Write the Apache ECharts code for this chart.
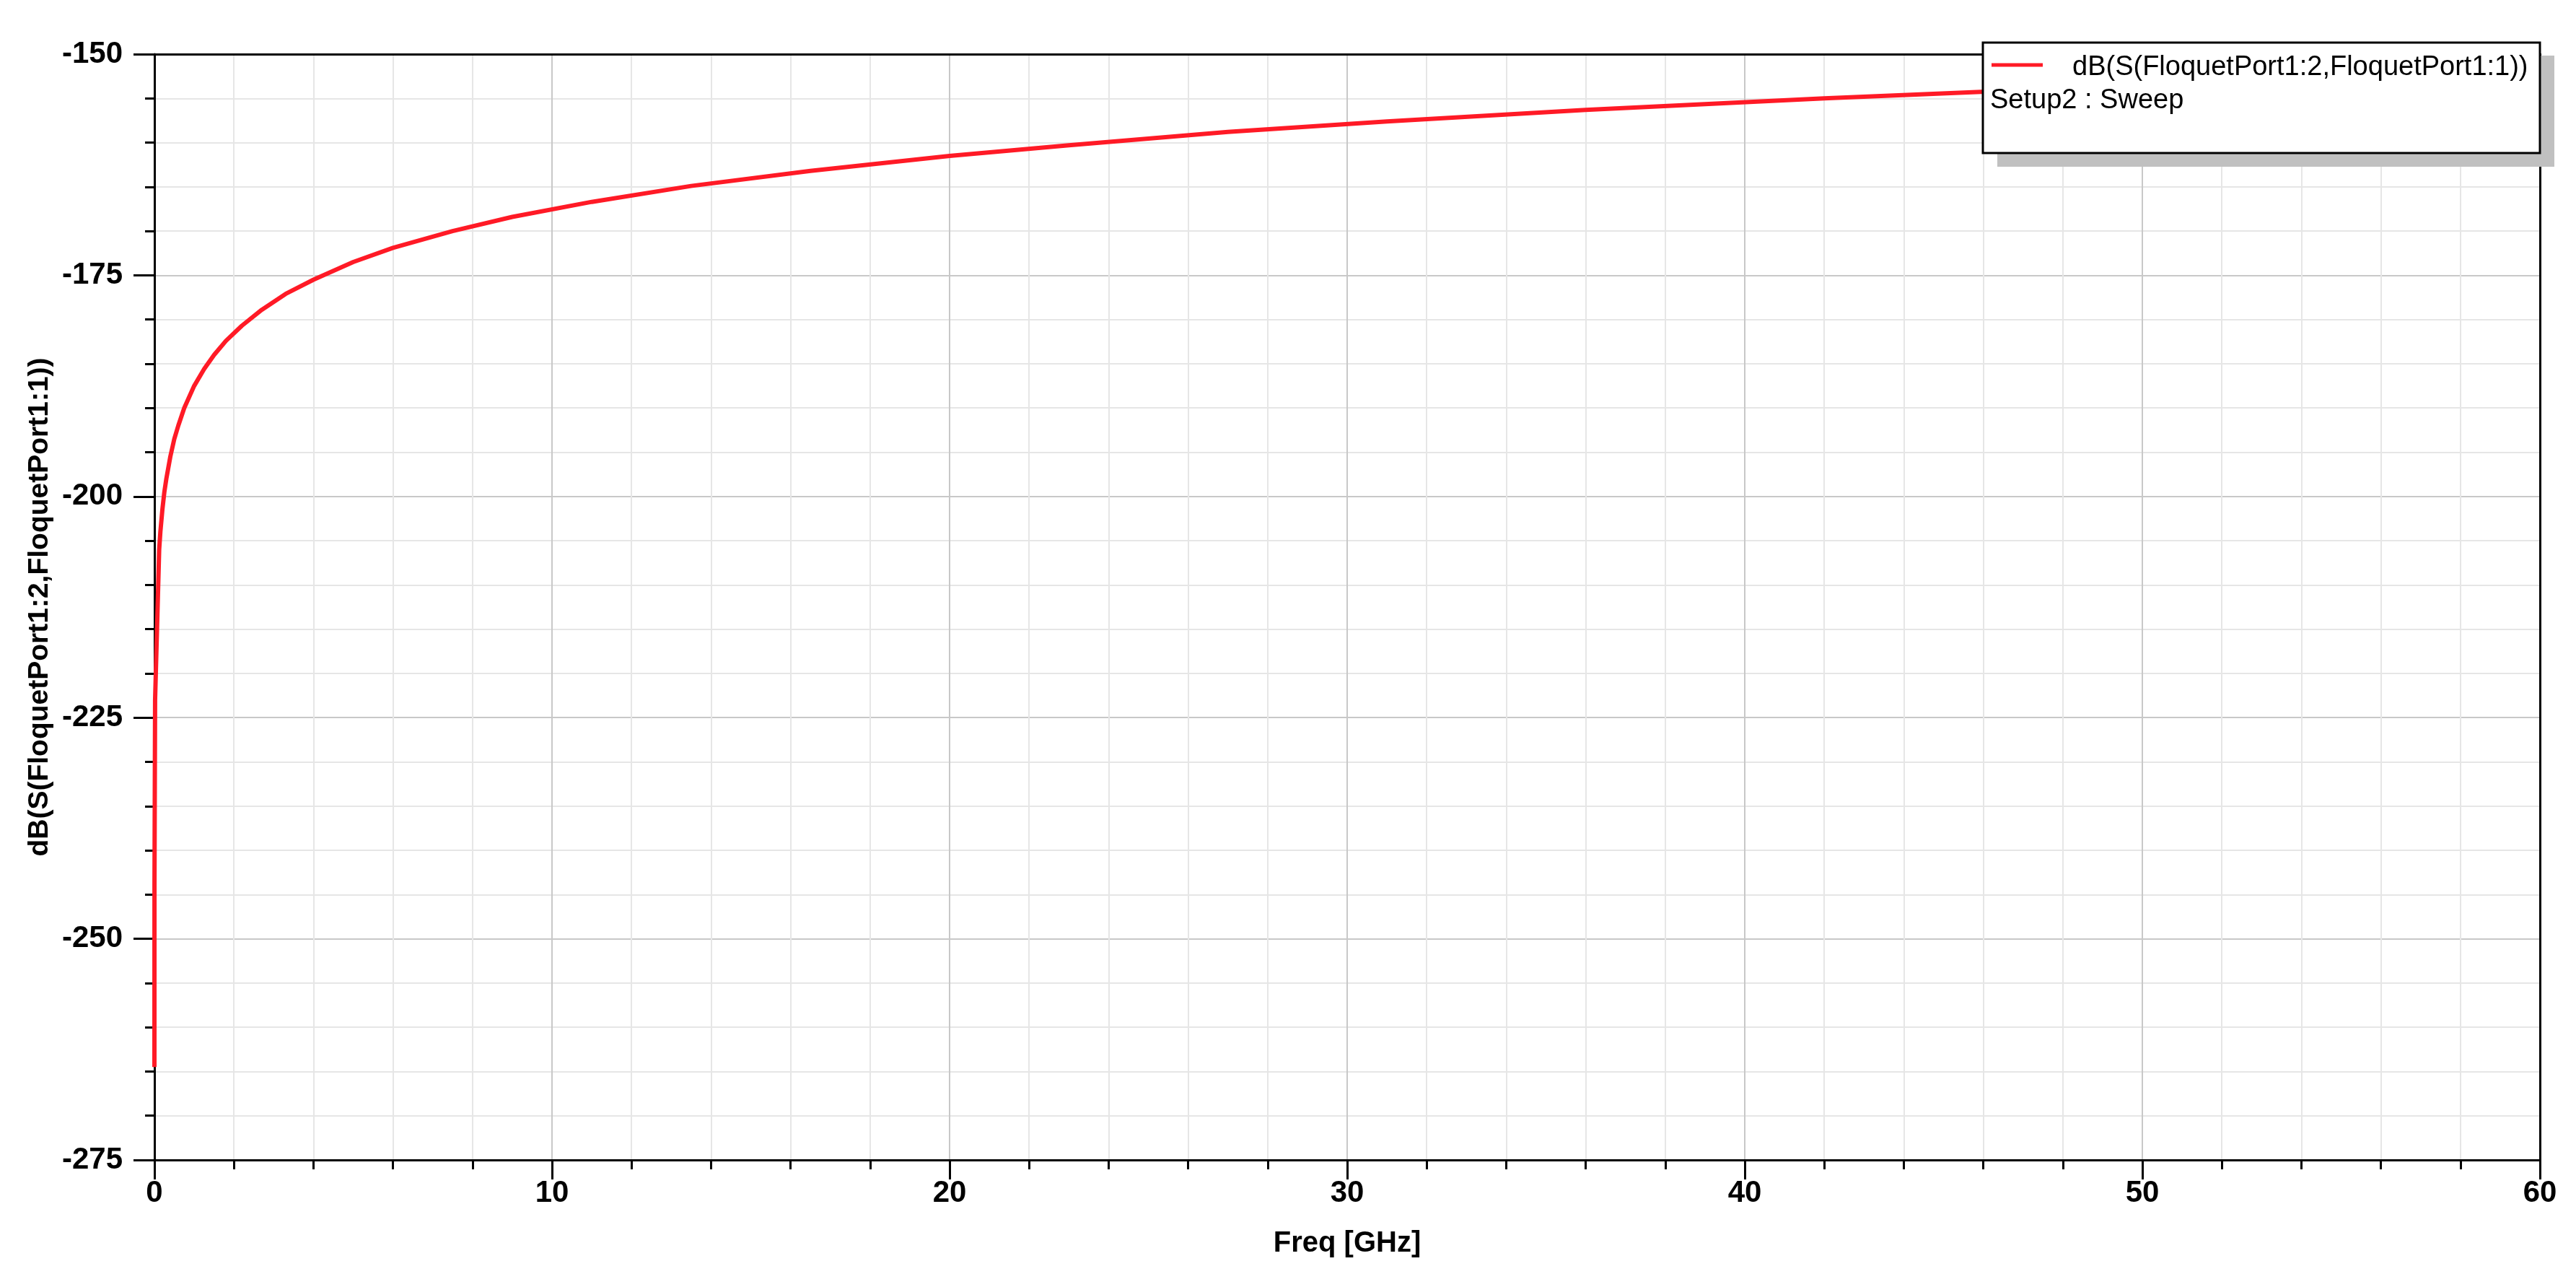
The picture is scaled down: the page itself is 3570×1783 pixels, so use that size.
<!DOCTYPE html>
<html>
<head>
<meta charset="utf-8">
<title>dB(S(FloquetPort1:2,FloquetPort1:1))</title>
<script src="https://cdn.jsdelivr.net/npm/echarts/dist/echarts.min.js"></script>
<style>
  html, body { margin: 0; padding: 0; background: #fff; }
  #chart { width: 3570px; height: 1783px; }
</style>
</head>
<body>
<div id="chart"></div>
<script>
// sweep (Setup2 : Sweep)
var freqGHz = [0.0001, 0.0015, 0.017, 0.12, 0.15, 0.2, 0.25, 0.3, 0.4, 0.5, 0.6, 0.75,
  1.0, 1.25, 1.5, 1.8, 2.2, 2.7, 3.3, 4.0, 5.0, 6.0, 7.5, 9.0, 11, 13.5, 16.5,
  20, 23, 27, 31, 36, 42, 50, 60];
var s21dB = [-264.5, -244, -223, -206, -204, -201.5, -199.5, -198, -195.5, -193.5, -192, -190,
  -187.5, -185.6, -184, -182.4, -180.7, -178.9, -177.1, -175.5, -173.5, -171.9, -170, -168.4, -166.7, -164.9, -163.2,
  -161.5, -160.3, -158.8, -157.6, -156.3, -155.0, -153.5, -151.9];

var traceName = 'dB(S(FloquetPort1:2,FloquetPort1:1))';
var sweepName = 'Setup2 : Sweep';
var xName = 'Freq [GHz]';

var font = '"Liberation Sans", Arial, Helvetica, sans-serif';
var red = '#ff1a26';

var points = freqGHz.map(function (f, i) { return [f, s21dB[i]]; });

var tickStyle = { color: '#000', width: 3 };
var labelStyle = { fontFamily: font, fontWeight: 'bold', fontSize: 42, color: '#000' };

var chart = echarts.init(document.getElementById('chart'));
chart.setOption({
    animation: false,
    backgroundColor: '#fff',
    grid: { left: 214, right: 50, top: 75, bottom: 176 },
    xAxis: [{
        type: 'value',
        position: 'bottom',
        min: 0, max: 60, interval: 10,
        name: xName,
        nameLocation: 'middle',
        nameGap: 96,
        nameTextStyle: { fontFamily: font, fontWeight: 'bold', fontSize: 40, color: '#000' },
        axisLine: { show: true, onZero: false, lineStyle: tickStyle },
        axisTick: { show: true, length: 27, lineStyle: tickStyle },
        minorTick: { show: true, splitNumber: 5, length: 13, lineStyle: tickStyle },
        axisLabel: Object.assign({ margin: 25 }, labelStyle),
        splitLine: { show: true, lineStyle: { color: '#c8c8c8', width: 2 } },
        minorSplitLine: { show: true, lineStyle: { color: '#e6e6e6', width: 2 } },
        z: 3
    }, {
        // top frame line
        type: 'value',
        position: 'top',
        min: 0, max: 60, interval: 10,
        axisLine: { show: true, onZero: false, lineStyle: tickStyle },
        axisTick: { show: false },
        axisLabel: { show: false },
        splitLine: { show: false },
        z: 3
    }],
    yAxis: [{
        type: 'value',
        position: 'left',
        min: -275, max: -150, interval: 25,
        name: traceName,
        nameLocation: 'middle',
        nameGap: 137,
        nameTextStyle: { fontFamily: font, fontWeight: 'bold', fontSize: 39, color: '#000' },
        axisLine: { show: true, onZero: false, lineStyle: tickStyle },
        axisTick: { show: true, length: 29, lineStyle: tickStyle },
        minorTick: { show: true, splitNumber: 5, length: 13, lineStyle: tickStyle },
        axisLabel: Object.assign({ margin: 44 }, labelStyle),
        splitLine: { show: true, lineStyle: { color: '#c8c8c8', width: 2 } },
        minorSplitLine: { show: true, lineStyle: { color: '#e6e6e6', width: 2 } },
        z: 3
    }, {
        // right frame line
        type: 'value',
        position: 'right',
        min: -275, max: -150, interval: 25,
        axisLine: { show: true, onZero: false, lineStyle: tickStyle },
        axisTick: { show: false },
        axisLabel: { show: false },
        splitLine: { show: false },
        z: 3
    }],
    series: [{
        name: traceName,
        type: 'line',
        xAxisIndex: 0,
        yAxisIndex: 0,
        data: points,
        showSymbol: false,
        lineStyle: { color: red, width: 6 },
        z: 5
    }],
    // HFSS style legend box with drop shadow
    graphic: [
        { type: 'rect', z: 100, shape: { x: 2768, y: 77, width: 772, height: 154 }, style: { fill: '#c0c0c0' } },
        { type: 'rect', z: 101, shape: { x: 2748, y: 59, width: 772, height: 153 }, style: { fill: '#fff', stroke: '#000', lineWidth: 3 } },
        { type: 'line', z: 102, shape: { x1: 2760, y1: 90, x2: 2831, y2: 90 }, style: { stroke: red, lineWidth: 5 } },
        { type: 'text', z: 102, x: 2872, y: 94, style: { text: traceName, font: '38px ' + font, fill: '#000', verticalAlign: 'middle' } },
        { type: 'text', z: 102, x: 2758, y: 140, style: { text: sweepName, font: '38px ' + font, fill: '#000', verticalAlign: 'middle' } }
    ]
});
</script>
</body>
</html>
